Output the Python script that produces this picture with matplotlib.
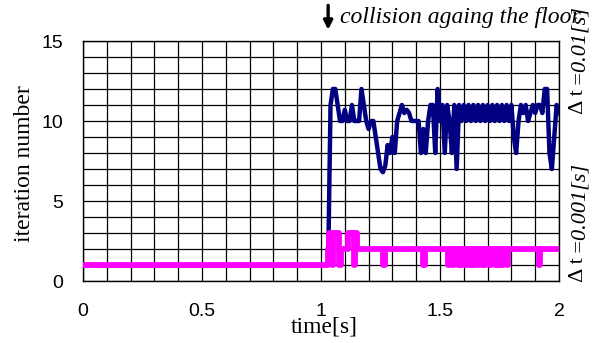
import matplotlib.pyplot as plt
import numpy as np

# dt = 0.01 s run (blue), sampled every 0.01 s after the collision
blue_t = [0.0, 1.03] + list(np.round(np.arange(1.04, 2.001, 0.01), 2))
blue_v = [1, 1,
          11, 12, 12, 11, 10, 10, 10.7, 10, 10, 11,
          10, 10, 10, 12, 11, 10, 9.5, 10, 10, 9,
          8, 7, 6.8, 7.2, 8.5, 8, 9, 8, 10, 10.5,
          11, 10.5, 10.7, 10.5, 10, 10, 10, 10, 8, 9.5,
          8, 10, 11, 11, 8, 12, 10, 11, 8, 11,
          10, 8, 11, 7, 11, 10, 11, 10, 11, 10,
          11, 10, 11, 10, 11, 10, 11, 10, 11, 10,
          11, 10, 11, 10, 11, 10, 11, 9, 8, 10,
          11, 10.5, 11, 10, 10.5, 11, 10.5, 11, 11, 10.5,
          12, 12, 8, 7, 9, 11, 10.5]

# dt = 0.001 s run (magenta), change points of the step line
pink_t = [0.0, 1.030, 1.034, 1.048, 1.052, 1.075, 1.082, 1.112, 1.138, 1.142, 1.150,
          1.262, 1.267, 1.430, 1.435, 1.535, 1.540, 1.555, 1.560, 1.575, 1.580,
          1.590, 1.595, 1.610, 1.615, 1.625, 1.630, 1.640, 1.645, 1.660, 1.665,
          1.675, 1.680, 1.690, 1.695, 1.710, 1.715, 1.730, 1.735, 1.745, 1.750,
          1.760, 1.765, 1.780, 1.785, 1.915, 1.920, 2.000]
pink_v = [1, 2, 3, 1, 3, 1, 2, 3, 1, 3, 2,
          1, 2, 1, 2, 1, 2, 1, 2, 1, 2,
          1, 2, 1, 2, 1, 2, 1, 2, 1, 2,
          1, 2, 1, 2, 1, 2, 1, 2, 1, 2,
          1, 2, 1, 2, 1, 2, 2]

x_ticks = [0, 0.5, 1, 1.5, 2]
x_tick_labels = ['0', '0.5', '1', '1.5', '2']
y_ticks = [0, 5, 10, 15]

fig = plt.figure(figsize=(5.98, 3.43), dpi=100)
ax = fig.add_axes([83/598, 1-281/343, 476/598, 240/343])

ax.plot(blue_t, blue_v, color='#000080', linewidth=3.2, zorder=3)
ax.plot(pink_t, pink_v, color='#ff00ff', linewidth=4.2, drawstyle='steps-post', zorder=4)

ax.set_xlim(0, 2)
ax.set_ylim(0, 15)
ax.set_xticks(np.arange(0, 2.01, 0.1), minor=True)
ax.set_yticks(np.arange(0, 15.1, 1), minor=True)
ax.set_xticks(x_ticks)
ax.set_xticklabels(x_tick_labels)
ax.set_yticks(y_ticks)
ax.grid(True, which='both', color='black', linewidth=0.9)
ax.set_axisbelow(True)
ax.tick_params(which='both', length=0)
ax.tick_params(axis='x', pad=16)
ax.tick_params(axis='y', pad=14)
for lab in ax.get_xticklabels() + ax.get_yticklabels():
    lab.set_family('Liberation Sans')
    lab.set_fontsize(14)
for s in ax.spines.values():
    s.set_linewidth(1.0)

ax.text(0.506, -0.15, 'time[s]', transform=ax.transAxes, ha='center', va='top',
        family='Liberation Serif', fontsize=17)
ax.text(-0.122, 0.49, 'iteration number', transform=ax.transAxes, ha='center', va='center',
        rotation=90, family='Liberation Serif', fontsize=17)

# collision marker
ax.annotate('', xy=(1.03, 1.035), xytext=(1.03, 1.16),
            xycoords=('data', 'axes fraction'), textcoords=('data', 'axes fraction'),
            arrowprops=dict(arrowstyle='-|>', lw=2.4, color='black', mutation_scale=13))
ax.text(1.08, 1.075, 'collision againg the floor', transform=ax.get_xaxis_transform(),
        ha='left', va='baseline', family='Liberation Serif', style='italic', fontsize=17)

# time step labels on the right: upright "Δ t", italic value
fig.canvas.draw()
for y0, val in [(0.695, '=0.01[s]'), (-0.005, '=0.001[s]')]:
    t1 = ax.text(1.04, y0, '\u0394 t ', transform=ax.transAxes, rotation=90,
                 ha='center', va='bottom', family='Liberation Serif', fontsize=16)
    fig.canvas.draw()
    top = ax.transAxes.inverted().transform((0, t1.get_window_extent().y1))[1]
    ax.text(1.04, top, val, transform=ax.transAxes, rotation=90,
            ha='center', va='bottom', family='Liberation Serif', style='italic', fontsize=16)

fig.savefig('out.png', dpi=100)
